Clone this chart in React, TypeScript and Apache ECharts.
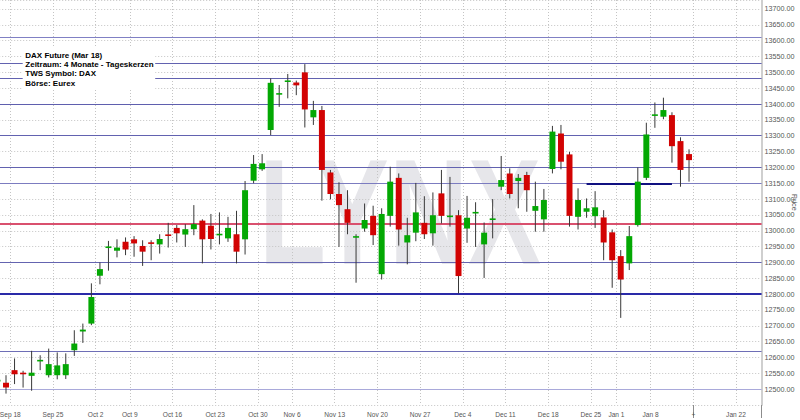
import React, { useEffect, useRef } from 'react';
import * as echarts from 'echarts';

// ---- Data ----
const tradingDays = [
  '2017-09-14', '2017-09-15', '2017-09-18', '2017-09-19', '2017-09-20', '2017-09-21', '2017-09-22',
  '2017-09-25', '2017-09-26', '2017-09-27', '2017-09-28', '2017-09-29',
  '2017-10-02', '2017-10-04', '2017-10-05', '2017-10-06',
  '2017-10-09', '2017-10-10', '2017-10-11', '2017-10-12', '2017-10-13',
  '2017-10-16', '2017-10-17', '2017-10-18', '2017-10-19', '2017-10-20',
  '2017-10-23', '2017-10-24', '2017-10-25', '2017-10-26', '2017-10-27',
  '2017-10-30', '2017-11-01', '2017-11-02', '2017-11-03',
  '2017-11-06', '2017-11-07', '2017-11-08', '2017-11-09', '2017-11-10',
  '2017-11-13', '2017-11-14', '2017-11-15', '2017-11-16', '2017-11-17',
  '2017-11-20', '2017-11-21', '2017-11-22', '2017-11-23', '2017-11-24',
  '2017-11-27', '2017-11-28', '2017-11-29', '2017-11-30', '2017-12-01',
  '2017-12-04', '2017-12-05', '2017-12-06', '2017-12-07', '2017-12-08',
  '2017-12-11', '2017-12-12', '2017-12-13', '2017-12-14', '2017-12-15',
  '2017-12-18', '2017-12-19', '2017-12-20', '2017-12-21', '2017-12-22',
  '2017-12-27', '2017-12-28', '2017-12-29',
  '2018-01-02', '2018-01-03', '2018-01-04', '2018-01-05',
  '2018-01-08', '2018-01-09', '2018-01-10', '2018-01-11', '2018-01-12',
];
const futureDays = [
  '2018-01-15', '2018-01-16', '2018-01-17', '2018-01-18', '2018-01-19',
  '2018-01-22', '2018-01-23', '2018-01-24',
];

const opens = [
  12524, 12520, 12560, 12552, 12542, 12588, 12544,
  12544, 12544, 12623, 12682, 12707,
  12858, 12947, 12937, 12965,
  12973, 12952, 12963, 12957, 12988,
  13009, 12988, 13005, 13032, 13016,
  12986, 12976, 12989, 12973, 13158,
  13194, 13318, 13430, 13470,
  13468, 13500, 13358, 13381, 13184,
  13116, 13068, 12978, 13007, 13047,
  12863, 13047, 13167, 12963, 12994,
  13025, 12992, 13118, 13044, 13049,
  13007, 13055, 12957, 13034, 13139,
  13181, 13157, 13176, 13063, 13036,
  13195, 13307, 13241, 13044, 13060,
  13046, 13042, 12995,
  12920, 12897, 13018, 13167,
  13363, 13360, 13365, 13283, 13242,
];
const closes = [
  12530, 12505, 12547, 12547, 12552, 12592, 12579,
  12575, 12579, 12644, 12688, 12791,
  12879, 12949, 12947, 12941,
  12960, 12934, 12959, 12974, 12984,
  12992, 13005, 13021, 12973, 12974,
  12990, 13009, 12934, 13128, 13211,
  13213, 13467, 13434, 13474,
  13459, 13383, 13381, 13192, 13116,
  13081, 13025, 12983, 13034, 12986,
  13053, 13155, 13004, 12986, 13058,
  12989, 13049, 13047, 13047, 12857,
  13041, 13059, 12994, 13039, 13160,
  13116, 13167, 13128, 13078, 13097,
  13313, 13218, 13047, 13097, 13071,
  13074, 12963, 12907,
  12846, 12983, 13155, 13304,
  13367, 13381, 13267, 13192, 13223,
];
const lows = [
  12518, 12486, 12516, 12505, 12495, 12560, 12537,
  12531, 12532, 12605, 12646, 12702,
  12831, 12874, 12916, 12923,
  12918, 12889, 12907, 12928, 12947,
  12963, 12949, 12986, 12897, 12941,
  12957, 12965, 12897, 12925, 13150,
  13189, 13302, 13391, 13418,
  13428, 13326, 13334, 13095, 13099,
  12949, 12989, 12836, 12997, 12955,
  12846, 13013, 12953, 12894, 12967,
  12974, 12953, 13023, 13013, 12802,
  12962, 12949, 12851, 12976, 13128,
  13102, 13071, 13060, 12997, 12997,
  13181, 13194, 13013, 13004, 13041,
  13009, 12907, 12820,
  12725, 12876, 13013, 13160,
  13325, 13352, 13215, 13139, 13155,
];
const highs = [
  12536, 12544, 12597, 12558, 12621, 12607, 12628,
  12616, 12613, 12686, 12707, 12834,
  12900, 12968, 12973, 12979,
  12983, 12970, 12970, 12989, 13025,
  13018, 13021, 13081, 13036, 13053,
  13058, 13044, 13063, 13157, 13239,
  13242, 13481, 13460, 13495,
  13474, 13526, 13410, 13394, 13192,
  13153, 13128, 12989, 13086, 13079,
  13071, 13202, 13181, 13041, 13151,
  13109, 13121, 13192, 13170, 13065,
  13110, 13090, 13026, 13100, 13236,
  13197, 13179, 13186, 13155, 13132,
  13331, 13334, 13249, 13134, 13102,
  13125, 13065, 13004,
  12939, 13015, 13200, 13341,
  13405, 13420, 13374, 13295, 13257,
];

// week tick labels (first trading day of each week)
const tickDates = [
  '2017-09-18', '2017-09-25', '2017-10-02', '2017-10-09', '2017-10-16', '2017-10-23',
  '2017-10-30', '2017-11-06', '2017-11-13', '2017-11-20', '2017-11-27', '2017-12-04',
  '2017-12-11', '2017-12-18', '2017-12-27', '2018-01-02', '2018-01-08', '2018-01-15',
  '2018-01-22',
];
const tickLabels = [
  'Sep 18', 'Sep 25', 'Oct 2', 'Oct 9', 'Oct 16', 'Oct 23',
  'Oct 30', 'Nov 6', 'Nov 13', 'Nov 20', 'Nov 27', 'Dec 4',
  'Dec 11', 'Dec 18', 'Dec 25', 'Jan 1', 'Jan 8', '+',
  'Jan 22',
];
const cursorDate = '2018-01-15';

// price levels
const levelLines = [13610, 13528, 13482, 13400, 13300, 13200, 13150, 12900, 12620, 12500];
const redLevel = 13022;
const blueLevel = 12800;
const segmentStart = '2017-12-22';
const segmentEnd = '2018-01-10';
const segmentLevel = 13148;

const yMin = 12450;
const yMax = 13728.4;
const yStep = 50;

const infoLines = [
  'DAX Future (Mar 18)',
  'Zeitraum: 4 Monate - Tageskerzen',
  'TWS Symbol: DAX',
  'Börse: Eurex',
];
const watermark = 'LYNX';

// ---- Styles ----
const GREEN = '#03a803';
const RED = '#d20303';
const WICK = '#383838';
const levelColors = ['#8080c4', '#6262b0', '#6262b0', '#5f5fae', '#6262b0', '#6262b0', '#7c7cc0', '#6464b0', '#6e6eb6', '#a9a9da'];
const NARROW = '"Liberation Sans Narrow", "Liberation Sans", Arial, sans-serif';

const allDays = [...tradingDays, ...futureDays];
const labelFor = (v: string) => {
  const k = tickDates.indexOf(v);
  return k >= 0 ? tickLabels[k] : null;
};

export default function App() {
  const ref = useRef<HTMLDivElement>(null);

  useEffect(() => {
    document.body.style.margin = '0';
    if (!ref.current) return;
    const chart = echarts.init(ref.current, undefined, { renderer: 'svg' });

    const gridLeft = -6.8;
    const gridWidth = 768.4;
    const band = gridWidth / allDays.length;

    const candleData = tradingDays.map((d, i) => [d, opens[i], closes[i], lows[i], highs[i]]);

    const renderCandle = (_params: any, api: any) => {
      const xi = api.value(0);
      const o = api.value(1);
      const c = api.value(2);
      const l = api.value(3);
      const h = api.value(4);
      const pO = api.coord([xi, o]);
      const pC = api.coord([xi, c]);
      const pL = api.coord([xi, l]);
      const pH = api.coord([xi, h]);
      const bw = api.size([1, 0])[0] * 0.7;
      let y = Math.min(pO[1], pC[1]);
      let ht = Math.abs(pO[1] - pC[1]);
      if (ht < 1.6) {
        y = (pO[1] + pC[1]) / 2 - 0.8;
        ht = 1.6;
      }
      const up = c >= o;
      return {
        type: 'group',
        children: [
          {
            type: 'line',
            shape: { x1: pH[0], y1: pH[1], x2: pL[0], y2: pL[1] },
            style: { stroke: WICK, lineWidth: 1 },
          },
          {
            type: 'rect',
            shape: { x: pO[0] - bw / 2, y, width: bw, height: ht },
            style: { fill: up ? GREEN : RED },
          },
        ],
      };
    };

    const segStyle = { color: '#101080', width: 2, type: 'solid' };
    const markData: any[] = [
      ...levelLines.map((v, i) => ({ yAxis: v, lineStyle: { color: levelColors[i], width: 1, type: 'solid' } })),
      { yAxis: redLevel, lineStyle: { color: '#d9506e', width: 2, type: 'solid' } },
      { yAxis: blueLevel, lineStyle: { color: '#2a2aa8', width: 2, type: 'solid' } },
      [
        { coord: [segmentStart, segmentLevel], lineStyle: segStyle },
        { coord: [segmentEnd, segmentLevel], lineStyle: segStyle },
      ],
    ];

    const option: any = {
      animation: false,
      grid: {
        left: gridLeft,
        width: gridWidth,
        top: 0,
        height: 405,
        containLabel: false,
        outerBoundsMode: 'none',
      },
      graphic: [
        {
          type: 'text',
          x: 400,
          y: 212,
          scaleX: 0.73,
          z: -10,
          silent: true,
          style: {
            x: 0,
            y: 0,
            text: watermark,
            font: 'bold 150px "Liberation Sans", Arial, sans-serif',
            fill: '#e6e6ea',
            align: 'center',
            verticalAlign: 'middle',
          },
        },
        {
          type: 'group',
          z: 100,
          children: [
            {
              type: 'rect',
              shape: { x: 22.7, y: 48, width: 132.5, height: 41 },
              style: { fill: '#ffffff' },
              z: 100,
            },
            ...infoLines.map((t, i) => ({
              type: 'text',
              x: 25.3,
              y: 55 + i * 9.45,
              z: 101,
              style: {
                text: t,
                font: 'bold 8px "Liberation Sans", Arial, sans-serif',
                fill: '#000000',
                align: 'left',
                verticalAlign: 'middle',
              },
            })),
          ],
        },
      ],
      xAxis: {
        type: 'category',
        data: allDays,
        boundaryGap: true,
        axisLine: { show: false },
        axisTick: {
          show: true,
          interval: (i: number, v: string) => i === 0 || v === cursorDate,
          length: 13,
          lineStyle: { color: '#8c8c8c', width: 1 },
        },
        axisLabel: {
          interval: (_i: number, v: string) => labelFor(v) !== null,
          formatter: (v: string) => labelFor(v) || '',
          fontSize: 6.6,
          fontFamily: NARROW,
          color: '#555555',
          margin: 6,
          padding: [0, band, 0, 0],
        },
        splitLine: {
          show: true,
          interval: (_i: number, v: string) => labelFor(v) !== null,
          lineStyle: { color: '#c4c4c4', width: 1, type: [1, 2] },
        },
      },
      yAxis: {
        type: 'value',
        position: 'right',
        min: yMin,
        max: yMax,
        interval: yStep,
        name: 'Price',
        nameLocation: 'middle',
        nameRotate: -90,
        nameGap: 29,
        nameMoveOverlap: false,
        nameTextStyle: { fontSize: 7.4, fontFamily: NARROW, color: '#555555' },
        axisLine: { show: true, lineStyle: { color: '#cfcfcf', width: 2 } },
        axisTick: { show: false },
        axisLabel: {
          formatter: (v: number) => v.toFixed(2),
          fontSize: 7.2,
          fontFamily: NARROW,
          color: '#555555',
          margin: 3,
          showMinLabel: false,
          showMaxLabel: false,
        },
        splitLine: { show: true, lineStyle: { color: '#c4c4c4', width: 1, type: [1, 2] } },
      },
      series: [
        {
          type: 'custom',
          name: 'DAX',
          renderItem: renderCandle,
          encode: { x: 0, y: [1, 2, 3, 4] },
          data: candleData,
          z: 3,
          markLine: {
            silent: true,
            symbol: ['none', 'none'],
            label: { show: false },
            emphasis: { disabled: true },
            animation: false,
            z: 1,
            data: markData,
          },
        },
      ],
    };

    chart.setOption(option);
    return () => {
      chart.dispose();
    };
  }, []);

  return (
    <div
      ref={ref}
      style={{ position: 'fixed', left: 0, top: 0, width: 800, height: 420, background: '#ffffff' }}
    />
  );
}
